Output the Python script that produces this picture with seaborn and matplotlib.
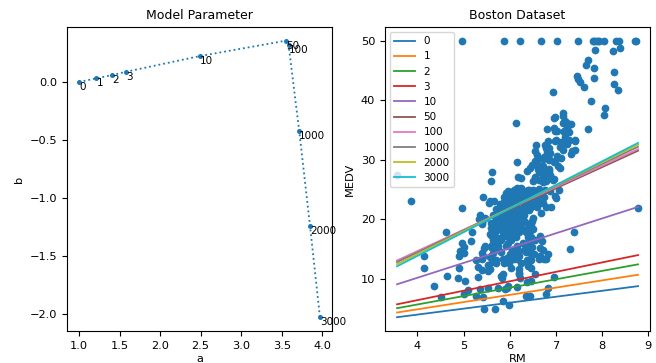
import numpy as np
import matplotlib
matplotlib.use("Agg")
import matplotlib.pyplot as plt
import seaborn as sns

# Gradient-descent snapshots of the linear model MEDV = a * RM + b
iterations = [0, 1, 2, 3, 10, 50, 100, 1000, 2000, 3000]
a_vals = [1.000, 1.214, 1.410, 1.584, 2.490, 3.550, 3.584, 3.716, 3.848, 3.971]
b_vals = [0.000, 0.032, 0.060, 0.089, 0.224, 0.357, 0.322, -0.426, -1.240, -2.032]

# Boston housing: average rooms per dwelling
rm = [
    6.575, 6.421, 7.185, 6.998, 7.147, 6.430, 6.012, 6.172, 5.631, 6.004,
    6.377, 6.009, 5.889, 5.949, 6.096, 5.834, 5.935, 5.990, 5.456, 5.727,
    5.570, 5.965, 6.142, 5.813, 5.924, 5.599, 5.813, 6.047, 6.495, 6.674,
    5.713, 6.072, 5.950, 5.701, 6.096, 5.933, 5.841, 5.850, 5.966, 6.595,
    7.024, 6.770, 6.169, 6.211, 6.069, 5.682, 5.786, 6.030, 5.399, 5.602,
    5.963, 6.115, 6.511, 5.998, 5.888, 7.249, 6.383, 6.816, 6.145, 5.927,
    5.741, 5.966, 6.456, 6.762, 7.104, 6.290, 5.787, 5.878, 5.594, 5.885,
    6.417, 5.961, 6.065, 6.245, 6.273, 6.286, 6.279, 6.140, 6.232, 5.874,
    6.727, 6.619, 6.302, 6.167, 6.389, 6.630, 6.015, 6.121, 7.007, 7.079,
    6.417, 6.405, 6.442, 6.211, 6.249, 6.625, 6.163, 8.069, 7.820, 7.416,
    6.727, 6.781, 6.405, 6.137, 6.167, 5.851, 5.836, 6.127, 6.474, 6.229,
    6.195, 6.715, 5.913, 6.092, 6.254, 5.928, 6.176, 6.021, 5.872, 5.731,
    5.870, 6.004, 5.961, 5.856, 5.879, 5.986, 5.613, 5.693, 6.431, 5.637,
    6.458, 6.326, 6.372, 5.822, 5.757, 6.335, 5.942, 6.454, 5.857, 6.151,
    6.174, 5.019, 5.403, 5.468, 4.903, 6.130, 5.628, 4.926, 5.186, 5.597,
    6.122, 5.404, 5.012, 5.709, 6.129, 6.152, 5.272, 6.943, 6.066, 6.510,
    6.250, 7.489, 7.802, 8.375, 5.854, 6.101, 7.929, 5.877, 6.319, 6.402,
    5.875, 5.880, 5.572, 6.416, 5.859, 6.546, 6.020, 6.315, 6.860, 6.980,
    7.765, 6.144, 7.155, 6.563, 5.604, 6.153, 7.831, 6.782, 6.556, 7.185,
    6.951, 6.739, 7.178, 6.800, 6.604, 7.875, 7.287, 7.107, 7.274, 6.975,
    7.135, 6.162, 7.610, 7.853, 8.034, 5.891, 6.326, 5.783, 6.064, 5.344,
    5.960, 5.404, 5.807, 6.375, 5.412, 6.182, 5.888, 6.642, 5.951, 6.373,
    6.951, 6.164, 6.879, 6.618, 8.266, 8.725, 8.040, 7.163, 7.686, 6.552,
    5.981, 7.412, 8.337, 8.247, 6.726, 6.086, 6.631, 7.358, 6.481, 6.606,
    6.897, 6.095, 6.358, 6.393, 5.593, 5.605, 6.108, 6.226, 6.433, 6.718,
    6.487, 6.438, 6.957, 8.259, 6.108, 5.876, 7.454, 8.704, 7.333, 6.842,
    7.203, 7.520, 8.398, 7.327, 7.206, 5.560, 7.014, 8.297, 7.470, 5.920,
    5.856, 6.240, 6.538, 7.691, 6.758, 6.854, 7.267, 6.826, 6.482, 6.812,
    7.820, 6.968, 7.645, 7.923, 7.088, 6.453, 6.230, 6.209, 6.315, 6.565,
    6.861, 7.148, 6.630, 6.127, 6.009, 6.678, 6.549, 5.790, 6.345, 7.041,
    6.871, 6.590, 6.495, 6.982, 7.236, 6.616, 7.420, 6.849, 6.635, 5.972,
    4.973, 6.122, 6.023, 6.266, 6.567, 5.705, 5.914, 5.782, 6.382, 6.113,
    6.426, 6.376, 6.041, 5.708, 6.415, 6.431, 6.312, 6.083, 5.868, 6.333,
    6.144, 5.706, 6.031, 6.316, 6.310, 6.037, 5.869, 5.895, 6.059, 5.985,
    5.968, 7.241, 6.540, 6.696, 6.874, 6.014, 5.898, 6.516, 6.635, 6.939,
    6.490, 6.579, 5.884, 6.728, 5.663, 5.936, 6.212, 6.395, 6.127, 6.112,
    6.398, 6.251, 5.362, 5.803, 8.780, 3.561, 4.963, 3.863, 4.970, 6.683,
    7.016, 6.216, 5.875, 4.906, 4.138, 7.313, 6.649, 6.794, 6.380, 6.223,
    6.968, 6.545, 5.536, 5.520, 4.368, 5.277, 4.652, 5.000, 4.880, 5.390,
    5.713, 6.051, 5.036, 6.193, 5.887, 6.471, 6.405, 5.747, 5.453, 5.852,
    5.987, 6.343, 6.404, 5.349, 5.531, 5.683, 4.138, 5.608, 5.617, 6.852,
    5.757, 6.657, 4.628, 5.155, 4.519, 6.434, 6.782, 5.304, 5.957, 6.824,
    6.411, 6.006, 5.648, 6.103, 5.565, 5.896, 5.837, 6.202, 6.193, 6.380,
    6.348, 6.833, 6.425, 6.436, 6.208, 6.629, 6.461, 6.152, 5.935, 5.627,
    5.818, 6.406, 6.219, 6.485, 5.854, 6.459, 6.341, 6.251, 6.185, 6.417,
    6.749, 6.655, 6.297, 7.393, 6.728, 6.525, 5.976, 5.936, 6.301, 6.081,
    6.701, 6.376, 6.317, 6.513, 6.209, 5.759, 5.952, 6.003, 5.926, 5.713,
    6.167, 6.229, 6.437, 6.980, 5.427, 6.162, 6.484, 5.304, 6.185, 6.229,
    6.242, 6.750, 7.061, 5.762, 5.871, 6.312, 6.114, 5.905, 5.454, 5.414,
    5.093, 5.983, 5.983, 5.707, 5.926, 5.670, 5.390, 5.794, 6.019, 5.569,
    6.027, 6.593, 6.120, 6.976, 6.794, 6.030,
]

# Boston housing: median home value (in $1000s)
medv = [
    24.0, 21.6, 34.7, 33.4, 36.2, 28.7, 22.9, 27.1, 16.5, 18.9,
    15.0, 18.9, 21.7, 20.4, 18.2, 19.9, 23.1, 17.5, 20.2, 18.2,
    13.6, 19.6, 15.2, 14.5, 15.6, 13.9, 16.6, 14.8, 18.4, 21.0,
    12.7, 14.5, 13.2, 13.1, 13.5, 18.9, 20.0, 21.0, 24.7, 30.8,
    34.9, 26.6, 25.3, 24.7, 21.2, 19.3, 20.0, 16.6, 14.4, 19.4,
    19.7, 20.5, 25.0, 23.4, 18.9, 35.4, 24.7, 31.6, 23.3, 19.6,
    18.7, 16.0, 22.2, 25.0, 33.0, 23.5, 19.4, 22.0, 17.4, 20.9,
    24.2, 21.7, 22.8, 23.4, 24.1, 21.4, 20.0, 20.8, 21.2, 20.3,
    28.0, 23.9, 24.8, 22.9, 23.9, 26.6, 22.5, 22.2, 23.6, 28.7,
    22.6, 22.0, 22.9, 25.0, 20.6, 28.4, 21.4, 38.7, 43.8, 33.2,
    27.5, 26.5, 18.6, 19.3, 20.1, 19.5, 19.5, 20.4, 19.8, 19.4,
    21.7, 22.8, 18.8, 18.7, 18.5, 18.3, 21.2, 19.2, 20.4, 19.3,
    22.0, 20.3, 20.5, 17.3, 18.8, 21.4, 15.7, 16.2, 18.0, 14.3,
    19.2, 19.6, 23.0, 18.4, 15.6, 18.1, 17.4, 17.1, 13.3, 17.8,
    14.0, 14.4, 13.4, 15.6, 11.8, 13.8, 15.6, 14.6, 17.8, 15.4,
    21.5, 19.6, 15.3, 19.4, 17.0, 15.6, 13.1, 41.3, 24.3, 23.3,
    27.0, 50.0, 50.0, 50.0, 22.7, 25.0, 50.0, 23.8, 23.8, 22.3,
    17.4, 19.1, 23.1, 23.6, 22.6, 29.4, 23.2, 24.6, 29.9, 37.2,
    39.8, 36.2, 37.9, 32.5, 26.4, 29.6, 50.0, 32.0, 29.8, 34.9,
    37.0, 30.5, 36.4, 31.1, 29.1, 50.0, 33.3, 30.3, 34.6, 34.9,
    32.9, 24.1, 42.3, 48.5, 50.0, 22.6, 24.4, 22.5, 24.4, 20.0,
    21.7, 19.3, 22.4, 28.1, 23.7, 25.0, 23.3, 28.7, 21.5, 23.0,
    26.7, 21.7, 27.5, 30.1, 44.8, 50.0, 37.6, 31.6, 46.7, 31.5,
    24.3, 31.7, 41.7, 48.3, 29.0, 24.0, 25.1, 31.5, 23.7, 23.3,
    22.0, 20.1, 22.2, 23.7, 17.6, 18.5, 24.3, 20.5, 24.5, 26.2,
    24.4, 24.8, 29.6, 42.8, 21.9, 20.9, 44.0, 50.0, 36.0, 30.1,
    33.8, 43.1, 48.8, 31.0, 36.5, 22.8, 30.7, 50.0, 43.5, 20.7,
    21.1, 25.2, 24.4, 35.2, 32.4, 32.0, 33.2, 33.1, 29.1, 35.1,
    45.4, 35.4, 46.0, 50.0, 32.2, 22.0, 20.1, 23.2, 22.3, 24.8,
    28.5, 37.3, 27.9, 23.9, 21.7, 28.6, 27.1, 20.3, 22.5, 29.0,
    24.8, 22.0, 26.4, 33.1, 36.1, 28.4, 33.4, 28.2, 22.8, 20.3,
    16.1, 22.1, 19.4, 21.6, 23.8, 16.2, 17.8, 19.8, 23.1, 21.0,
    23.8, 23.1, 20.4, 18.5, 25.0, 24.6, 23.0, 22.2, 19.3, 22.6,
    19.8, 17.1, 19.4, 22.2, 20.7, 21.1, 19.5, 18.5, 20.6, 19.0,
    18.7, 32.7, 16.5, 23.9, 31.2, 17.5, 17.2, 23.1, 24.5, 26.6,
    22.9, 24.1, 18.6, 30.1, 18.2, 20.6, 17.8, 21.7, 22.7, 22.6,
    25.0, 19.9, 20.8, 16.8, 21.9, 27.5, 21.9, 23.1, 50.0, 50.0,
    50.0, 50.0, 50.0, 13.8, 13.8, 15.0, 13.9, 13.3, 13.1, 10.2,
    10.4, 10.9, 11.3, 12.3, 8.8, 7.2, 10.5, 7.4, 10.2, 11.5,
    15.1, 23.2, 9.7, 13.8, 12.7, 13.1, 12.5, 8.5, 5.0, 6.3,
    5.6, 7.2, 12.1, 8.3, 8.5, 5.0, 11.9, 27.9, 17.2, 27.5,
    15.0, 17.2, 17.9, 16.3, 7.0, 7.2, 7.5, 10.4, 8.8, 8.4,
    16.7, 14.2, 20.8, 13.4, 11.7, 8.3, 10.2, 10.9, 11.0, 9.5,
    14.5, 14.1, 16.1, 14.3, 11.7, 13.4, 9.6, 8.7, 8.4, 12.8,
    10.5, 17.1, 18.4, 15.4, 10.8, 11.8, 14.9, 12.6, 14.1, 13.0,
    13.4, 15.2, 16.1, 17.8, 14.9, 14.1, 12.7, 13.5, 14.9, 20.0,
    16.4, 17.7, 19.5, 20.2, 21.4, 19.9, 19.0, 19.1, 19.1, 20.1,
    19.9, 19.6, 23.2, 29.8, 13.8, 13.3, 16.7, 12.0, 14.6, 21.4,
    23.0, 23.7, 25.0, 21.8, 20.6, 21.2, 19.1, 20.6, 15.2, 7.0,
    8.1, 13.6, 20.1, 21.8, 24.5, 23.1, 19.7, 18.3, 21.2, 17.5,
    16.8, 22.4, 20.6, 23.9, 22.0, 11.9,
]

n = min(len(rm), len(medv))
rm_arr = np.array(rm[:n])
medv_arr = np.array(medv[:n])

fig, (ax1, ax2) = plt.subplots(1, 2, figsize=(6.56, 3.63), dpi=100)
fig.subplots_adjust(left=0.102, right=0.991, bottom=0.088, top=0.926, wspace=0.2)

TICK = 8.2

# Parameter trajectory
sns.lineplot(x=a_vals, y=b_vals, ax=ax1, sort=False, color="C0",
             linestyle=":", linewidth=1.3, marker="o", markersize=3.6,
             markeredgewidth=0, markeredgecolor="C0")
for it, a, b in zip(iterations, a_vals, b_vals):
    ax1.text(a, b, str(it), ha="left", va="top", fontsize=7.5)
ax1.set_title("Model Parameter", fontsize=9)
ax1.set_xlabel("a", fontsize=TICK, labelpad=2)
ax1.set_ylabel("b", fontsize=TICK)
ax1.tick_params(labelsize=TICK)

# Data with fitted lines at each snapshot
sns.scatterplot(x=rm_arr, y=medv_arr, ax=ax2, color="C0", s=31, linewidth=0)
xs = np.array([rm_arr.min(), rm_arr.max()])
for i, (it, a, b) in enumerate(zip(iterations, a_vals, b_vals)):
    sns.lineplot(x=xs, y=a * xs + b, ax=ax2, color=f"C{i}", linewidth=1.3,
                 label=str(it))
ax2.legend(loc="upper left", fontsize=7.5)
ax2.set_title("Boston Dataset", fontsize=9)
ax2.set_xlabel("RM", fontsize=TICK, labelpad=2)
ax2.set_ylabel("MEDV", fontsize=TICK)
ax2.tick_params(labelsize=TICK)

fig.savefig("out.png", dpi=100)
